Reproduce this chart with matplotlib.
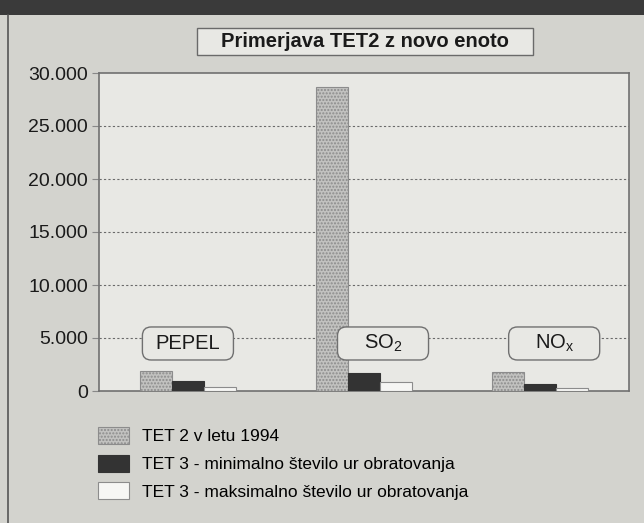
import matplotlib.pyplot as plt
from matplotlib.patches import FancyBboxPatch, Rectangle
from matplotlib.lines import Line2D
from matplotlib.ticker import FuncFormatter
import numpy as np

plt.rcParams['font.family'] = ['Liberation Sans', 'DejaVu Sans']
plt.rcParams['mathtext.fontset'] = 'custom'
plt.rcParams['mathtext.rm'] = 'Liberation Sans'
plt.rcParams['mathtext.it'] = 'Liberation Sans'

categories = ['PEPEL', 'SO$_2$', 'NO$_\\mathrm{x}$']
series_names = ['TET 2 v letu 1994',
                'TET 3 - minimalno število ur obratovanja',
                'TET 3 - maksimalno število ur obratovanja']
tet2_1994 = [1900, 28700, 1800]
tet3_min = [900, 1700, 650]
tet3_max = [400, 850, 300]
yticks = [0, 5000, 10000, 15000, 20000, 25000, 30000]

outer_bg = '#d3d3ce'
plot_bg = '#e8e8e4'

fig = plt.figure(figsize=(6.44, 5.23), dpi=100, facecolor=outer_bg)
ax = fig.add_axes([99/644, 1-391/523, 530/644, 318/523])
ax.set_facecolor(plot_bg)

x = np.arange(len(categories))
w = 0.182
b1 = ax.bar(x - w, tet2_1994, w, facecolor='#c2c2c0', edgecolor='#8c8c8c',
            hatch='.....', linewidth=0.8, zorder=3, label=series_names[0])
b2 = ax.bar(x, tet3_min, w, facecolor='#333333', edgecolor='#333333',
            linewidth=0.8, zorder=3, label=series_names[1])
b3 = ax.bar(x + w, tet3_max, w, facecolor='#f6f6f4', edgecolor='#8c8c8c',
            linewidth=0.8, zorder=3, label=series_names[2])

ax.set_xlim(-0.505, 2.505)
ax.set_ylim(0, 30000)
ax.set_yticks(yticks)
ax.yaxis.set_major_formatter(FuncFormatter(lambda v, p: f'{int(v):,}'.replace(',', '.')))
ax.set_xticks([])
ax.tick_params(axis='y', length=5, color='#888888', labelsize=14, labelcolor='#1a1a1a', pad=3)
for s in ax.spines.values():
    s.set_color('#707070')
    s.set_linewidth(1.2)
for v in yticks[1:-1]:
    ax.axhline(v, color='#6a6a6a', linestyle=(0, (2, 2)), linewidth=0.8, zorder=1)

# category labels in rounded boxes
box_x = [0.0, 1.108, 2.08]
bw = 91/176
y0, y1 = 2925, 6040
for cx, name in zip(box_x, categories):
    box = FancyBboxPatch((cx - bw/2, y0), bw, y1 - y0,
                         boxstyle='round,pad=0,rounding_size=0.05',
                         mutation_aspect=16600,
                         facecolor=plot_bg, edgecolor='#707070', linewidth=1.0, zorder=4)
    ax.add_patch(box)
    ax.text(cx, (y0 + y1)/2, name, ha='center', va='center', fontsize=14.5,
            color='#1a1a1a', zorder=5)

# title box
fig.patches.append(Rectangle((197/644, 1-55/523), 336/644, 27/523, transform=fig.transFigure,
                             facecolor=plot_bg, edgecolor='#6a6a6a', linewidth=1.0))
fig.text(365/644, 1-41.5/523, 'Primerjava TET2 z novo enoto', ha='center', va='center',
         fontsize=14.5, fontweight='bold', color='#1a1a1a')

# dark band on top and page edge
fig.patches.append(Rectangle((0, 1-15/523), 1, 15/523, transform=fig.transFigure,
                             facecolor='#3a3a3a', edgecolor='none'))
fig.lines.append(Line2D([8/644, 8/644], [0, 1-15/523], transform=fig.transFigure,
                        color='#555555', linewidth=1.2))

fig.legend(handles=[b1, b2, b3], loc='upper left',
           bbox_to_anchor=(98/644, 1-427/523), frameon=False, fontsize=12.5,
           handlelength=1.78, handleheight=1.15, handletextpad=0.75,
           labelspacing=0.58, borderpad=0, borderaxespad=0)

fig.savefig('out.png', dpi=100, facecolor=outer_bg)
